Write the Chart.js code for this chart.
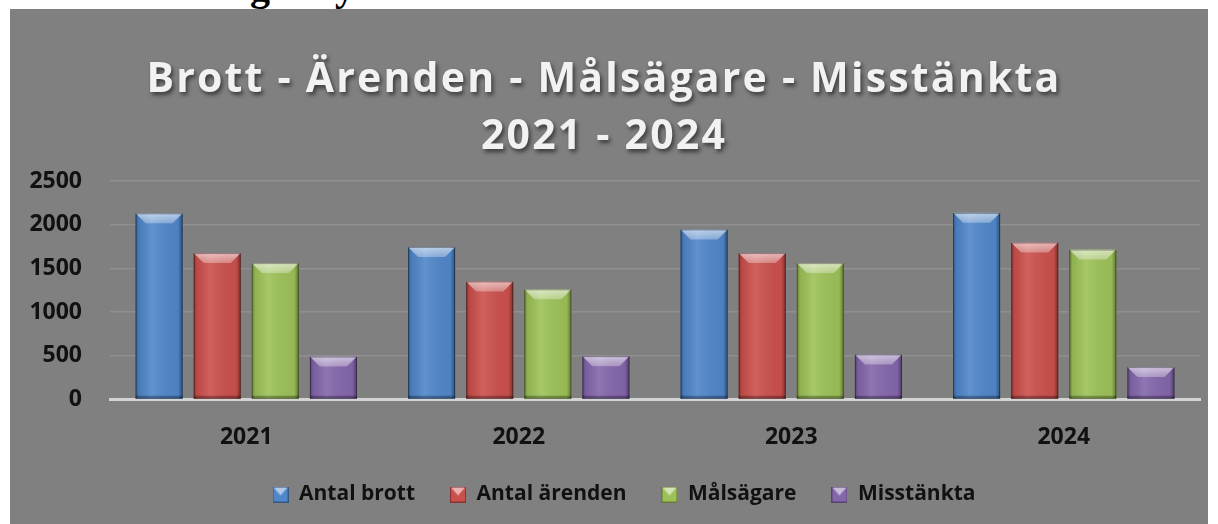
<!DOCTYPE html>
<html>
<head>
<meta charset="utf-8">
<script src="https://cdn.jsdelivr.net/npm/chart.js@4.4.1/dist/chart.umd.min.js"></script>
<style>
  html, body { margin: 0; padding: 0; background: #fff; width: 1218px; height: 524px; overflow: hidden; }
  #rubrik { position: absolute; left: 0; top: 0; width: 1218px; height: 9px; overflow: hidden;
            font: bold 40px "Liberation Serif", serif; line-height: 1; color: #000; }
  #rubrik span { position: absolute; top: -33px; }
  #panel { position: absolute; left: 10px; top: 9px; width: 1198px; height: 515px; background: #808080; }
</style>
</head>
<body>
<div id="rubrik"><span style="left:250px">g</span><span style="left:335px">y</span></div>
<div id="panel"><canvas id="diagram" width="1198" height="515"></canvas></div>
<script>
// data
const years = ["2021", "2022", "2023", "2024"];
const antalBrott = [2130, 1745, 1945, 2135];
const antalArenden = [1675, 1350, 1675, 1795];
const malsagare = [1560, 1260, 1560, 1715];
const misstankta = [490, 495, 515, 370];
const serieNamn = ["Antal brott", "Antal ärenden", "Målsägare", "Misstänkta"];
const rubrik = ["Brott - Ärenden - Målsägare - Misstänkta", "2021 - 2024"];
const yTicks = [0, 500, 1000, 1500, 2000, 2500];

const farger = ["#5086ca", "#cb504c", "#9dc158", "#8466ab"];
const typsnitt = "'Open Sans'";

function ljus(hex, amt) {
  const n = parseInt(hex.slice(1), 16);
  let r = n >> 16, g = (n >> 8) & 255, b = n & 255;
  if (amt > 0) { r += (255 - r) * amt; g += (255 - g) * amt; b += (255 - b) * amt; }
  else { r *= 1 + amt; g *= 1 + amt; b *= 1 + amt; }
  return `rgb(${Math.round(r)},${Math.round(g)},${Math.round(b)})`;
}

// small bevelled squares for the legend
function legendRuta(farg) {
  const c = document.createElement("canvas");
  c.width = 16; c.height = 16;
  const x = c.getContext("2d");
  x.fillStyle = ljus(farg, -0.35); x.fillRect(0, 0, 16, 16);
  x.fillStyle = farg; x.fillRect(1, 1, 14, 14);
  x.fillStyle = ljus(farg, 0.55);
  x.beginPath(); x.moveTo(1, 1); x.lineTo(15, 1); x.lineTo(8, 9); x.closePath(); x.fill();
  return c;
}

const bevel = {
  id: "bevel",
  afterDatasetsDraw(chart) {
    const ctx = chart.ctx;
    chart.data.datasets.forEach((ds, i) => {
      chart.getDatasetMeta(i).data.forEach(bar => {
        const x0 = bar.x - bar.width / 2, x1 = bar.x + bar.width / 2;
        const top = bar.y, bottom = bar.base, w = x1 - x0;
        const b = Math.min(10, (bottom - top) / 2);
        ctx.save();
        const g = ctx.createLinearGradient(x0, 0, x1, 0);
        g.addColorStop(0, "rgba(0,0,0,0.35)");
        g.addColorStop(0.07, "rgba(0,0,0,0.08)");
        g.addColorStop(0.35, "rgba(255,255,255,0.10)");
        g.addColorStop(0.9, "rgba(0,0,0,0.04)");
        g.addColorStop(1, "rgba(0,0,0,0.4)");
        ctx.fillStyle = g;
        ctx.fillRect(x0, top, w, bottom - top);
        ctx.beginPath();
        ctx.moveTo(x0, top); ctx.lineTo(x1, top);
        ctx.lineTo(x1 - b, top + b); ctx.lineTo(x0 + b, top + b);
        ctx.closePath();
        const tg = ctx.createLinearGradient(0, top, 0, top + b);
        tg.addColorStop(0, "rgba(255,255,255,0.6)");
        tg.addColorStop(1, "rgba(255,255,255,0.3)");
        ctx.fillStyle = tg; ctx.fill();
        ctx.fillStyle = "rgba(0,0,0,0.25)";
        ctx.fillRect(x0, bottom - 3, w, 3);
        ctx.strokeStyle = "rgba(0,0,0,0.35)"; ctx.lineWidth = 1;
        ctx.strokeRect(x0 + 0.5, top + 0.5, w - 1, bottom - top - 1);
        ctx.restore();
      });
    });
  }
};

// shadow on the title, small nudges of title and legend
const flytta = {
  id: "flytta",
  afterLayout(chart) {
    const t = chart.titleBlock;
    if (t && !t._flyttad) {
      const orig = t.draw.bind(t);
      t.draw = function (area) {
        const ctx = chart.ctx;
        ctx.save();
        ctx.translate(-1, 0);
        ctx.shadowColor = "rgba(0,0,0,0.55)";
        ctx.shadowBlur = 4; ctx.shadowOffsetX = 2; ctx.shadowOffsetY = 3;
        ctx.letterSpacing = "2.2px";
        orig(area);
        ctx.restore();
      };
      t._flyttad = true;
    }
    const l = chart.legend;
    if (l && !l._flyttad) {
      const orig = l.draw.bind(l);
      l.draw = function (area) {
        chart.ctx.save();
        chart.ctx.translate(19, 0);
        orig(area);
        chart.ctx.restore();
      };
      l._flyttad = true;
    }
  }
};

const serier = [antalBrott, antalArenden, malsagare, misstankta];

new Chart(document.getElementById("diagram"), {
  type: "bar",
  data: {
    labels: years,
    datasets: serier.map((v, i) => ({
      label: serieNamn[i],
      data: v,
      backgroundColor: farger[i],
      pointStyle: legendRuta(farger[i]),
      categoryPercentage: 0.853,
      barPercentage: 0.81
    }))
  },
  options: {
    responsive: false,
    animation: false,
    layout: { padding: { left: 0, right: 8, top: 0, bottom: 9 } },
    plugins: {
      title: {
        display: true,
        text: rubrik,
        color: "#f2f2f2",
        font: { family: typsnitt, size: 41, weight: "bold", lineHeight: 1.39 },
        padding: { top: 43, bottom: 15 }
      },
      legend: {
        position: "bottom",
        labels: {
          usePointStyle: true,
          boxWidth: 16, boxHeight: 16,
          padding: 35,
          color: "#111",
          font: { family: typsnitt, size: 21, weight: "bold" }
        }
      },
      tooltip: { enabled: false }
    },
    scales: {
      x: {
        z: 1,
        grid: { display: false },
        border: { color: "#d4d4d4", width: 3 },
        afterFit(s) { s.height -= 18; },
        ticks: { color: "#111", padding: 16, font: { family: typsnitt, size: 23, weight: "bold" } }
      },
      y: {
        min: 0, max: 2500,
        afterBuildTicks(s) { s.ticks = yTicks.map(v => ({ value: v })); },
        afterFit(s) { s.width = 100; },
        border: { display: false },
        grid: { color: "#8f8f8f", lineWidth: 1.5, drawTicks: false },
        ticks: {
          color: "#111", padding: 28,
          font: { family: typsnitt, size: 23, weight: "bold" },
          callback: v => String(v)
        }
      }
    }
  },
  plugins: [bevel, flytta]
});
</script>
</body>
</html>
